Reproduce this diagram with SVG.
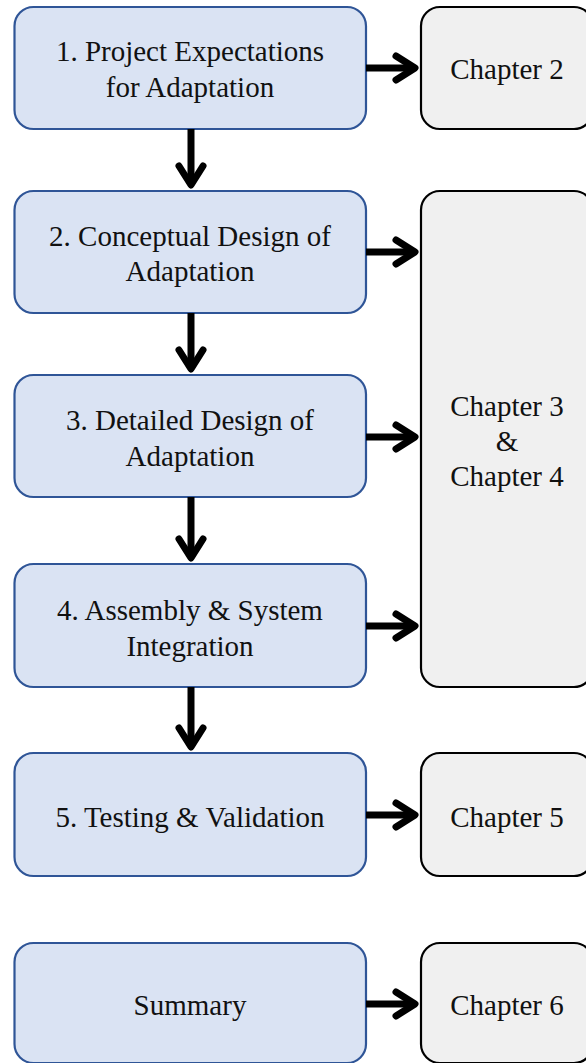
<svg xmlns="http://www.w3.org/2000/svg" width="586" height="1063" viewBox="0 0 586 1063">
<style>
.step{fill:#dae3f3;stroke:#2f5597;stroke-width:2.2}
.chap{fill:#f0f0f0;stroke:#000;stroke-width:2.2}
text{font-family:'Liberation Serif','Times New Roman','DejaVu Serif',serif;font-size:29px;fill:#111;text-anchor:middle}
.ln{stroke:#000;stroke-width:7;fill:none}
.hd{stroke:#000;stroke-width:7;fill:none;stroke-linecap:round;stroke-linejoin:round}
</style>
<rect width="586" height="1063" fill="#fff"/>
<g id="step1"><rect class="step" x="14.5" y="7" width="351.5" height="122" rx="19"/><text x="190" y="61">1. Project Expectations</text><text x="190" y="97">for Adaptation</text></g>
<g id="step2"><rect class="step" x="14.5" y="191" width="351.5" height="122" rx="19"/><text x="190" y="246">2. Conceptual Design of</text><text x="190" y="281">Adaptation</text></g>
<g id="step3"><rect class="step" x="14.5" y="375" width="351.5" height="122" rx="19"/><text x="190" y="430">3. Detailed Design of</text><text x="190" y="466">Adaptation</text></g>
<g id="step4"><rect class="step" x="14.5" y="564" width="351.5" height="123" rx="19"/><text x="190" y="620">4. Assembly &amp; System</text><text x="190" y="656">Integration</text></g>
<g id="step5"><rect class="step" x="14.5" y="753" width="351.5" height="123" rx="19"/><text x="190" y="827">5. Testing &amp; Validation</text></g>
<g id="summary"><rect class="step" x="14.5" y="943" width="351.5" height="120" rx="19"/><text x="190" y="1015">Summary</text></g>
<g id="chapter2"><rect class="chap" x="421" y="7" width="172" height="122" rx="19"/><text x="507" y="79">Chapter 2</text></g>
<g id="chapter34"><rect class="chap" x="421" y="191" width="172" height="496" rx="19"/><text x="507" y="416">Chapter 3</text><text x="507" y="451">&amp;</text><text x="507" y="486">Chapter 4</text></g>
<g id="chapter5"><rect class="chap" x="421" y="753" width="172" height="123" rx="19"/><text x="507" y="827">Chapter 5</text></g>
<g id="chapter6"><rect class="chap" x="421" y="943" width="172" height="120" rx="19"/><text x="507" y="1015">Chapter 6</text></g>
<g id="connectors">
<path class="ln" d="M366 68H415"/><path class="hd" d="M396 56L415 68L396 80"/>
<path class="ln" d="M366 252H415"/><path class="hd" d="M396 240L415 252L396 264"/>
<path class="ln" d="M366 437H415"/><path class="hd" d="M396 425L415 437L396 449"/>
<path class="ln" d="M366 626H415"/><path class="hd" d="M396 614L415 626L396 638"/>
<path class="ln" d="M366 815H415"/><path class="hd" d="M396 803L415 815L396 827"/>
<path class="ln" d="M366 1004H415"/><path class="hd" d="M396 992L415 1004L396 1016"/>
<path class="ln" d="M191 129V185"/><path class="hd" d="M179 166L191 185L203 166"/>
<path class="ln" d="M191 313V369"/><path class="hd" d="M179 350L191 369L203 350"/>
<path class="ln" d="M191 497V558"/><path class="hd" d="M179 539L191 558L203 539"/>
<path class="ln" d="M191 687V747"/><path class="hd" d="M179 728L191 747L203 728"/>
</g>
</svg>
